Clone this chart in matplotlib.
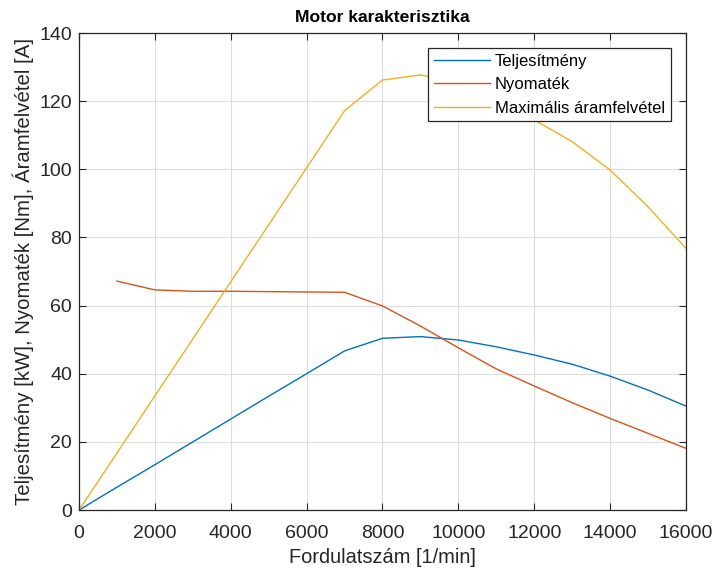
import matplotlib
matplotlib.use("Agg")
from matplotlib import pyplot as plt

plt.rcParams['font.family'] = ['Liberation Sans', 'DejaVu Sans']

# fordulatszám [1/min]
n = [0, 1000, 2000, 3000, 4000, 5000, 6000, 7000, 8000,
     9000, 10000, 11000, 12000, 13000, 14000, 15000, 16000]
teljesitmeny = [0, 6.7, 13.3, 20.0, 26.7, 33.4, 40.0, 46.7, 50.4,
                50.9, 49.9, 47.9, 45.5, 42.8, 39.3, 35.2, 30.5]
n_nyomatek = n[1:]
nyomatek = [67.2, 64.6, 64.2, 64.2, 64.1, 64.0, 63.9, 59.9,
            54.0, 47.6, 41.4, 36.4, 31.5, 26.9, 22.5, 18.1]
aram = [0, 16.7, 33.5, 50.2, 67.0, 83.7, 100.4, 117.2, 126.2,
        127.7, 125.5, 121.0, 114.5, 108.1, 99.8, 89.0, 76.8]

fig = plt.figure(figsize=(7.15, 5.71), dpi=100)
ax = fig.add_axes([0.1105, 0.1068, 0.8489, 0.8354])

ax.plot(n, teljesitmeny, color='#0072BD', lw=1.0, label='Teljesítmény')
ax.plot(n_nyomatek, nyomatek, color='#D95319', lw=1.0, label='Nyomaték')
ax.plot(n, aram, color='#EDB120', lw=1.0, label='Maximális áramfelvétel')

ax.set_xlim(0, 16000)
ax.set_ylim(0, 140)
ax.set_xticks(range(0, 16001, 2000))
ax.set_yticks(range(0, 141, 20))
ax.grid(True, color='#dcdcdc', lw=0.8)
ax.set_axisbelow(True)
ax.tick_params(direction='in', top=True, right=True, labelsize=14,
               colors='#262626', length=5)
ax.tick_params(axis='x', pad=11)
ax.tick_params(axis='y', pad=5)
for s in ax.spines.values():
    s.set_color('#262626')
    s.set_linewidth(0.9)

ax.set_xlabel('Fordulatszám [1/min]', fontsize=14.4, color='#262626',
              labelpad=4)
ax.set_ylabel('Teljesítmény [kW], Nyomaték [Nm], Áramfelvétel [A]',
              fontsize=14.7, color='#262626', labelpad=4)
ax.set_title('Motor karakterisztika', fontsize=12.6, fontweight='bold', pad=8)

leg = ax.legend(loc='upper right', fontsize=12, fancybox=False,
                framealpha=1, edgecolor='#262626', handlelength=3.35,
                borderpad=0.35, labelspacing=0.5, handletextpad=0.3,
                borderaxespad=0.9)
leg.get_frame().set_linewidth(0.9)

fig.savefig('out.png', dpi=100)
